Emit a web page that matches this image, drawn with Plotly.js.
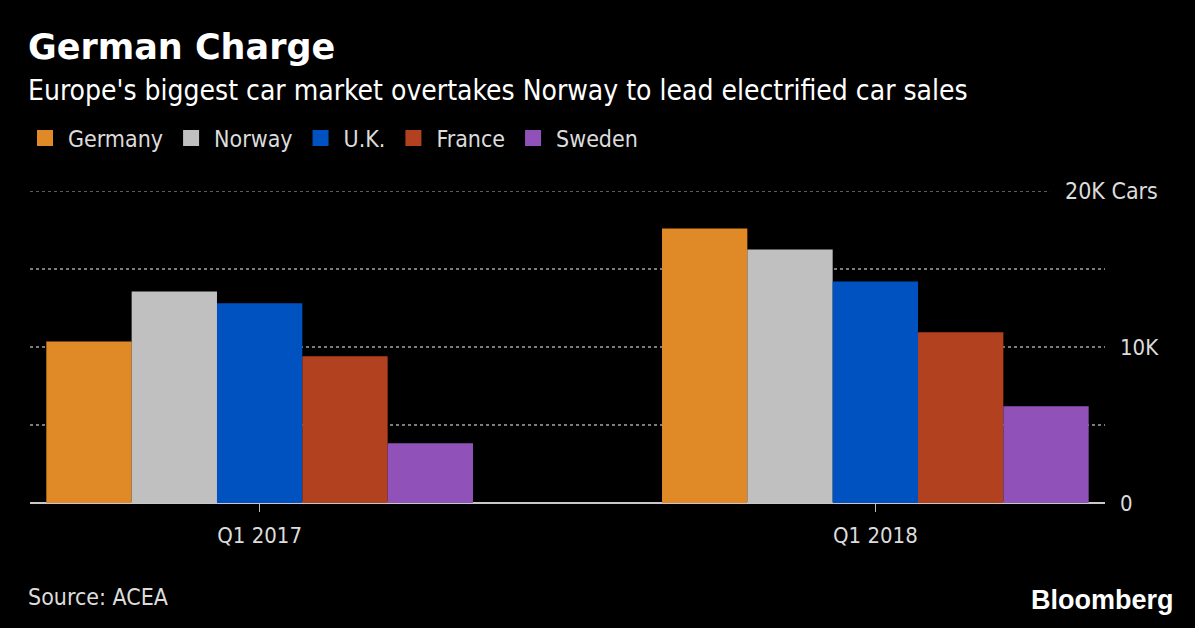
<!DOCTYPE html>
<html>
<head>
<meta charset="utf-8">
<script src="https://cdn.plot.ly/plotly-3.0.1.min.js"></script>
<style>
html,body{margin:0;padding:0;background:#000;}
#chart{width:1195px;height:628px;}
</style>
</head>
<body>
<div id="chart"></div>
<script>
const quarters = ["Q1 2017", "Q1 2018"];
const countries = ["Germany", "Norway", "U.K.", "France", "Sweden"];
const germany = [10350, 17600];
const norway = [13550, 16250];
const uk = [12800, 14200];
const france = [9400, 10950];
const sweden = [3830, 6200];
const colors = ["#df8a27", "#c0c0c0", "#0052c0", "#b2411f", "#9052b8"];
const yTickVals = [0, 5000, 10000, 15000];
const yTickText = ["0", "", "10K", ""];
const topTick = 20000;
const topTickLabel = "20K Cars";

const series = [germany, norway, uk, france, sweden];
const FONT = "DejaVu Sans Condensed, DejaVu Sans, sans-serif";

const traces = [];
series.forEach((vals, i) => {
  traces.push({
    type: "bar", name: countries[i], x: quarters, y: vals,
    marker: {color: colors[i]}, showlegend: false, hoverinfo: "skip"
  });
});
series.forEach((vals, i) => {
  traces.push({
    type: "scatter", mode: "markers", name: countries[i], x: [null], y: [null],
    marker: {color: colors[i], symbol: "square", size: 21}, showlegend: true
  });
});

const layout = {
  width: 1195, height: 628,
  paper_bgcolor: "#000", plot_bgcolor: "#000",
  margin: {l: 30, r: 90, t: 191, b: 125},
  barmode: "group", bargap: 0.307, bargroupgap: 0,
  font: {family: FONT, color: "#dcdcdc"},
  title: {text: "German Charge", x: 28 / 1195, xref: "container", xanchor: "left",
          y: 1 - 47 / 628, yref: "container", yanchor: "middle",
          font: {family: "DejaVu Sans, sans-serif", size: 35, color: "#ffffff", weight: "bold"}},
  xaxis: {type: "category", range: [-0.373, 1.373], showgrid: false,
          ticks: "outside", ticklen: 8, tickcolor: "#bbbbbb", tickwidth: 1,
          tickfont: {size: 22, color: "#dcdcdc", family: FONT}, ticklabelstandoff: 5,
          showline: false, zeroline: false, fixedrange: true},
  yaxis: {range: [0, 20000], side: "right", tickvals: yTickVals, ticktext: yTickText,
          showgrid: true, gridcolor: "#7c7c7c", griddash: "dot", gridwidth: 1.3,
          zeroline: true, zerolinecolor: "#c8c8c8", zerolinewidth: 2,
          ticks: "", ticklabelstandoff: 14,
          tickfont: {size: 22, color: "#dcdcdc", family: FONT}, fixedrange: true},
  legend: {orientation: "h", x: 22 / 1195, xref: "container", y: 1 - 138 / 628, yref: "container",
           xanchor: "left", yanchor: "middle", itemwidth: 36,
           font: {size: 23, color: "#dcdcdc", family: FONT},
           bgcolor: "rgba(0,0,0,0)", itemclick: false, itemdoubleclick: false},
  shapes: [{type: "line", xref: "paper", yref: "y", x0: 0, x1: 0.949,
            y0: topTick, y1: topTick, line: {color: "#7c7c7c", width: 1.3, dash: "dot"}}],
  annotations: [
    {text: topTickLabel, xref: "paper", yref: "y", x: 1.051, y: topTick,
     xanchor: "right", yanchor: "middle", showarrow: false,
     font: {size: 23, color: "#dcdcdc", family: FONT}},
    {text: "Europe's biggest car market overtakes Norway to lead electrified car sales",
     xref: "paper", yref: "paper", x: 0, xanchor: "left", y: 0, yanchor: "middle",
     showarrow: false, font: {size: 28, color: "#ffffff", family: FONT}},
    {text: "Source: ACEA", xref: "paper", yref: "paper", x: 0, xanchor: "left",
     y: 0, yanchor: "middle", showarrow: false,
     font: {size: 23, color: "#dcdcdc", family: FONT}},
    {text: "<b>Bloomberg</b>", xref: "paper", yref: "paper", x: 1, xanchor: "right",
     y: 0, yanchor: "middle", showarrow: false,
     font: {size: 27, color: "#ffffff", family: "Liberation Sans, Arial, sans-serif"}}
  ]
};
const plotH = 628 - 191 - 125, plotW = 1195 - 30 - 90;
function py(pix){ return (628 - 125 - pix) / plotH; }
function px(pix){ return (pix - 30) / plotW; }
layout.annotations[1].y = py(90); layout.annotations[1].x = px(26);
layout.annotations[2].y = py(597); layout.annotations[2].x = px(26);
layout.annotations[3].y = py(600); layout.annotations[3].x = px(1176);

Plotly.newPlot("chart", traces, layout, {displayModeBar: false, staticPlot: true});
</script>
</body>
</html>
